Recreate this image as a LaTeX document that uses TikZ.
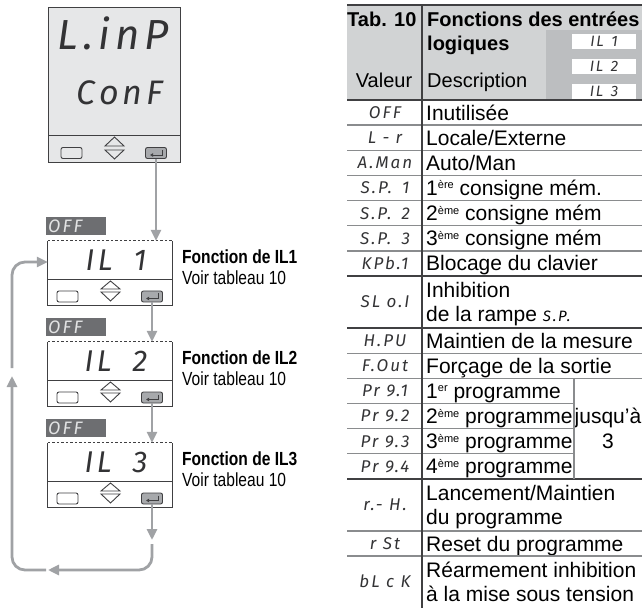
\documentclass[tikz,border=0pt]{standalone}
\usepackage{fontspec}
\setmainfont{Liberation Sans}
\newfontfamily\labelfont[FakeStretch=0.82]{Liberation Sans}
\newfontfamily\segfontbase[LetterSpace=12]{Fira Sans}
\newcommand\segfont{\segfontbase\itshape}
\newcommand\expo[1]{\raisebox{6.5pt}{\fontsize{11}{11}\selectfont #1}}
\usetikzlibrary{positioning,arrows.meta}
\definecolor{arrowgrey}{HTML}{A0A2A5}
\definecolor{lcdgrey}{HTML}{E6E7E8}
\definecolor{badgegrey}{HTML}{6D6E71}
\definecolor{keygrey}{HTML}{A7A9AC}
\definecolor{headgrey}{HTML}{D1D3D4}
\definecolor{ilgrey}{HTML}{BCBEC0}
\definecolor{rulegrey}{HTML}{8A8C8E}
\definecolor{framegrey}{HTML}{404042}
\definecolor{segblack}{HTML}{333335}
\definecolor{offwhite}{HTML}{E2E3E4}

\begin{document}
\begin{tikzpicture}[
        x=1pt, y=-1pt,
        arrow/.style={-{Triangle[length=11pt,width=10pt]}, line width=2.8pt, draw=arrowgrey},
        lcd/.style={rectangle, fill=white, inner sep=0pt, minimum width=124pt, minimum height=64pt},
        edgeline/.style={draw=framegrey, line width=0.9pt},
        btn/.style={rectangle, draw=framegrey, line width=0.9pt, rounded corners=2pt, minimum width=21pt, minimum height=11pt, inner sep=0pt},
        seg/.style={inner sep=0pt, text=segblack},
        codetext/.style={seg, font=\segfont\fontsize{17}{17}\selectfont, text height=11.7pt, text depth=0pt},
        desctext/.style={anchor=west, inner sep=0pt, text height=15pt, text depth=0pt, font=\fontsize{21}{24}\selectfont},
        headtext/.style={anchor=base west, inner sep=0pt, font=\fontsize{20}{24}\selectfont},
        labeltext/.style={anchor=west, inner sep=0pt, font=\labelfont\fontsize{19}{22}\selectfont},
        ilbox/.style={rectangle, fill=white, inner sep=0pt, minimum width=64pt, minimum height=15pt, font=\segfont\fontsize{15}{15}\selectfont, text=segblack},
        toprule/.style={draw=framegrey, line width=1.2pt},
        rowrule/.style={draw=rulegrey, line width=1.3pt}
    ]
        \useasboundingbox (0,0) rectangle (642,609);

        \node[rectangle, fill=lcdgrey, draw=framegrey, line width=0.9pt, minimum width=132pt, minimum height=155pt, inner sep=0pt] (conf) at (114,84.5) {};
        \draw[edgeline] (48,135) -- (180,135);
        \node[seg, font=\segfont\fontsize{42}{42}\selectfont] (linp) at (113,33) {L.inP};
        \node[seg, font=\segfont\fontsize{34}{34}\selectfont] (conftext) at (120,93) {ConF};
        \node[btn] (esc0) at (71.5,153) {};
        \draw[edgeline] (105,146) -- (114.5,137) -- (124,146) -- cycle;
        \draw[edgeline] (105,150) -- (124,150) -- (114.5,159) -- cycle;
        \node[btn, fill=keygrey] (ent0) at (156,153) {};
        \draw[edgeline, -{Latex[length=3pt,width=4pt]}] ([shift={(6pt,3pt)}]ent0.center) |- ([shift={(-6pt,-2pt)}]ent0.center);

        \foreach \t/\n in {241/1, 342/2, 443/3} {
            \fill[badgegrey] (46,\t-24) rectangle (106,\t-6);
            \node[seg, anchor=west, text=offwhite, font=\segfont\fontsize{18}{18}\selectfont] (off\n) at (48,\t-15) {OFF};
            \node[lcd] (il\n) at (110,\t+32) {};
            \draw[edgeline] (il\n.north west) -- (il\n.south west) -- (il\n.south east) -- (il\n.north east);
            \draw[edgeline, dashed, dash pattern=on 2.5pt off 2pt] (il\n.north west) -- (il\n.north east);
            \draw[edgeline] (48,\t+38) -- (172,\t+38);
            \node[seg, font=\segfont\fontsize{30}{30}\selectfont] (ilt\n) at (116,\t+19) {IL\hspace{0.7em}\n};
            \node[btn, fill=white] (esc\n) at (67.5,\t+55.5) {};
            \draw[edgeline] (101,\t+48) -- (110.5,\t+40) -- (120,\t+48) -- cycle;
            \draw[edgeline] (101,\t+51) -- (120,\t+51) -- (110.5,\t+60) -- cycle;
            \node[btn, fill=keygrey] (ent\n) at (152,\t+55.5) {};
            \draw[edgeline, -{Latex[length=3pt,width=4pt]}] ([shift={(6pt,3pt)}]ent\n.center) |- ([shift={(-6pt,-2pt)}]ent\n.center);
            \node[labeltext] (fn\n) at (182,\t+16) {\bfseries Fonction de IL\n};
            \node[labeltext] (voir\n) at (182,\t+37) {Voir tableau 10};
        }

        \draw[arrow] (ent0.south) -- (ent0.south |- il1.north);
        \draw[arrow] (ent1.south) -- (ent1.south |- il2.north);
        \draw[arrow] (ent2.south) -- (ent2.south |- il3.north);
        \coordinate (loopa) at (152,540);
        \coordinate (loopb) at (152,544);
        \coordinate (loopc) at (48,570);
        \coordinate (loopd) at (46,570);
        \coordinate (loope) at (12,376);
        \coordinate (loopf) at (12,368);
        \draw[arrow] (ent3.south) -- (loopa);
        \draw[arrow, rounded corners=13pt] (loopb) |- (loopc);
        \draw[arrow, rounded corners=13pt] (loopd) -| (loope);
        \draw[arrow, rounded corners=13pt] (loopf) |- ([yshift=11pt]il1.west);

        \fill[headgrey] (347,5) rectangle (642,100);
        \fill[ilgrey] (546,30) rectangle (642,100);
        \foreach \y/\n in {34/1, 59/2, 84/3}
            \node[ilbox] (hil\n) at (604,\y+7.5) {IL\hspace{0.5em}\n};
        \node[headtext] (tab) at (347,27) {\bfseries Tab. 10};
        \node[headtext] (titre) at (427,27) {\bfseries Fonctions des entrées};
        \node[headtext] (logiques) at (427,51) {\bfseries logiques};
        \node[headtext, anchor=base] (valeur) at (384,88) {Valeur};
        \node[headtext] (descr) at (427,88) {Description};

        \node[codetext] (c1) at (385,112.6) {OFF};
        \node[desctext] (d1) at (426,112.6) {Inutilisée};
        \node[codetext] (c2) at (385,137.7) {L - r};
        \node[desctext] (d2) at (426,137.7) {Locale/Externe};
        \node[codetext] (c3) at (385,162.9) {A.Man};
        \node[desctext] (d3) at (426,162.9) {Auto/Man};
        \node[codetext] (c4) at (385,188.0) {S.P.\hspace{0.6em}1};
        \node[desctext] (d4) at (426,188.0) {1\expo{ère} consigne mém.};
        \node[codetext] (c5) at (385,213.2) {S.P.\hspace{0.6em}2};
        \node[desctext] (d5) at (426,213.2) {2\expo{ème} consigne mém};
        \node[codetext] (c6) at (385,238.3) {S.P.\hspace{0.6em}3};
        \node[desctext] (d6) at (426,238.3) {3\expo{ème} consigne mém};
        \node[codetext] (c7) at (385,263.5) {KPb.1};
        \node[desctext] (d7) at (426,263.5) {Blocage du clavier};
        \node[codetext] (c8) at (385,302.05) {SL o.I};
        \node[desctext] (d8a) at (426,290.05) {Inhibition};
        \node[desctext] (d8b) at (426,314.05) {de la rampe {\segfont\fontsize{15}{15}\selectfont S.P.}};
        \node[codetext] (c9) at (385,340.6) {H.PU};
        \node[desctext] (d9) at (426,340.6) {Maintien de la mesure};
        \node[codetext] (c10) at (385,365.8) {F.Out};
        \node[desctext] (d10) at (426,365.8) {Forçage de la sortie};
        \node[codetext] (c11) at (385,390.9) {Pr 9.1};
        \node[desctext] (d11) at (426,390.9) {1\expo{er} programme};
        \node[codetext] (c12) at (385,416.1) {Pr 9.2};
        \node[desctext] (d12) at (426,416.1) {2\expo{ème} programme};
        \node[codetext] (c13) at (385,441.2) {Pr 9.3};
        \node[desctext] (d13) at (426,441.2) {3\expo{ème} programme};
        \node[codetext] (c14) at (385,466.4) {Pr 9.4};
        \node[desctext] (d14) at (426,466.4) {4\expo{ème} programme};
        \node[codetext] (c15) at (385,504.95) {r.- H.};
        \node[desctext] (d15a) at (426,492.95) {Lancement/Maintien};
        \node[desctext] (d15b) at (426,516.95) {du programme};
        \node[codetext] (c16) at (385,543.5) {r St};
        \node[desctext] (d16) at (426,543.5) {Reset du programme};
        \node[codetext] (c17) at (385,582.1) {bL c K};
        \node[desctext] (d17a) at (426,570.1) {Réarmement inhibition};
        \node[desctext] (d17b) at (426,594.1) {à la mise sous tension};
        \node[desctext, anchor=center] (jusqua) at (608,416.1) {jusqu'à};
        \node[desctext, anchor=center] (trois) at (608,441.2) {3};

        \foreach \y in {125.15, 150.3, 175.45, 200.6, 225.75, 250.9, 353.2, 378.35, 530.95, 556.1}
            \draw[rowrule] (347,\y) -- (642,\y);
        \foreach \y in {403.5, 428.65, 453.8}
            \draw[rowrule] (347,\y) -- (574,\y);
        \foreach \y in {276.05, 328.05, 478.95}
            \draw[toprule] (347,\y) -- (642,\y);
        \draw[rowrule] (574,378.35) -- (574,478.95);
        \draw[toprule] (347,5) -- (642,5);
        \draw[toprule] (347,100) -- (642,100);
        \draw[toprule] (422,5) -- (422,608);
    \end{tikzpicture}
\end{document}
